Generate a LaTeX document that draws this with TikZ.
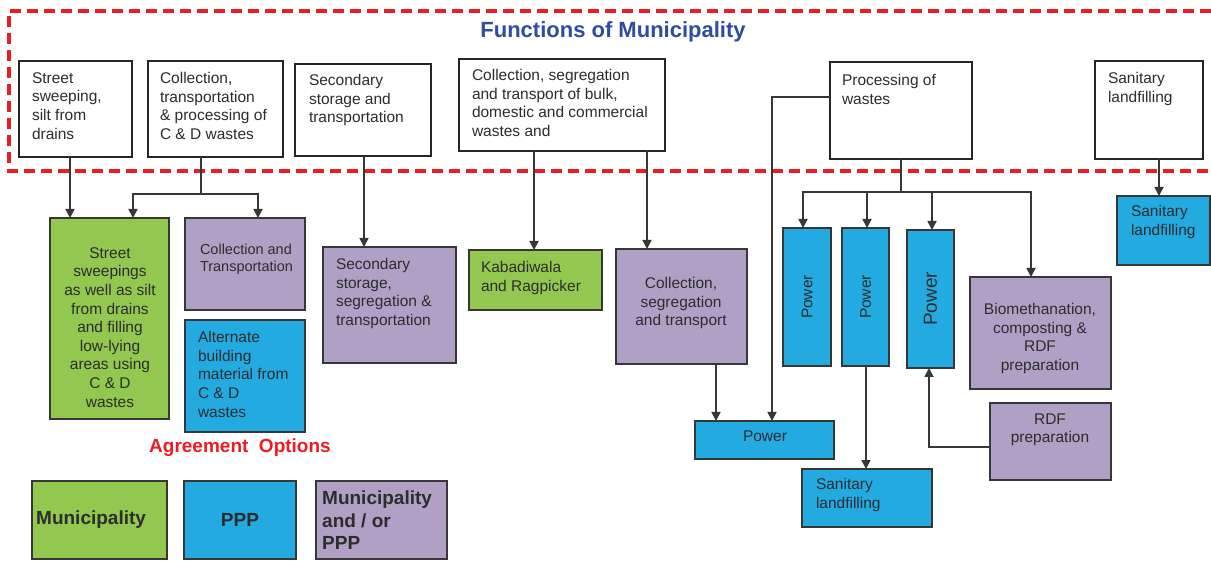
\documentclass[tikz,border=0pt]{standalone}
\usepackage{fontspec}
\setmainfont{Liberation Sans}
\usetikzlibrary{arrows.meta,calc}
\definecolor{cgreen}{RGB}{146,200,80}
\definecolor{cblue}{RGB}{35,170,225}
\definecolor{cpurple}{RGB}{176,160,198}
\definecolor{cred}{RGB}{237,28,36}
\definecolor{ctitle}{RGB}{46,76,160}
\definecolor{cline}{RGB}{55,55,55}
\definecolor{ctext}{RGB}{45,45,45}
\newcommand\mkbox[6]{\node[#2, anchor=north west, minimum width=#5-#3, minimum height=#6-#4] (#1) at (#3,#4) {};}
\tikzset{
  boxbase/.style={rectangle, inner sep=0pt, outer sep=0pt},
  wbox/.style={boxbase, draw=black!85, line width=1.5pt, fill=white},
  gbox/.style={boxbase, draw=cline, line width=1.8pt, fill=cgreen},
  bbox/.style={boxbase, draw=cline, line width=1.8pt, fill=cblue},
  pbox/.style={boxbase, draw=cline, line width=1.8pt, fill=cpurple},
  txt/.style={font=\fontsize{15.5}{18.6}\selectfont, text=ctext, inner sep=0pt, outer sep=0pt, align=left},
  ctxt/.style={txt, align=center},
  legtxt/.style={font=\bfseries\fontsize{19}{22.5}\selectfont, text=ctext, inner sep=0pt, align=left},
  ln/.style={draw=cline, line width=1.7pt},
  arr/.style={ln, -{Triangle[length=9pt,width=9pt]}},
}
\begin{document}
\begin{tikzpicture}[x=1pt,y=-1pt]
\useasboundingbox[fill=white] (0,0) rectangle (1211,561);
% dashed frame
\draw[cred, line width=3.5pt, dash pattern=on 11pt off 6pt] (1211,11) -- (9,11) -- (9,171) -- (1211,171);
\node[font=\bfseries\fontsize{22}{26}\selectfont, text=ctitle, inner sep=0pt] (title) at (613,32) {Functions of Municipality};
% top boxes
\mkbox{t1}{wbox}{19}{61}{132}{157}
\mkbox{t2}{wbox}{148}{61}{283}{157}
\mkbox{t3}{wbox}{295}{64}{431}{156}
\mkbox{t4}{wbox}{459}{59}{665}{151}
\mkbox{t5}{wbox}{830}{62}{972}{159}
\mkbox{t6}{wbox}{1095}{61}{1203}{159}
\node[txt, anchor=north west] (t1t) at (32,72.5) {Street\\sweeping,\\silt from\\drains};
\node[txt, anchor=north west] (t2t) at (160,72.5) {Collection,\\transportation\\\& processing of\\C \& D wastes};
\node[txt, anchor=north west] (t3t) at (309,74.5) {Secondary\\storage and\\transportation};
\node[txt, anchor=north west] (t4t) at (472,69.5) {Collection, segregation\\and transport of bulk,\\domestic and commercial\\wastes and};
\node[txt, anchor=north west] (t5t) at (842,74.5) {Processing of\\wastes};
\node[txt, anchor=north west] (t6t) at (1108,72.5) {Sanitary\\landfilling};
% lower boxes
\mkbox{g1}{gbox}{50}{218}{169}{419}
\mkbox{ct}{pbox}{185}{218}{305}{310}
\mkbox{ab}{bbox}{185}{320}{305}{432}
\mkbox{s1}{pbox}{323}{247}{456}{363}
\mkbox{kb}{gbox}{469}{250}{602}{310}
\mkbox{cst}{pbox}{616}{249}{747}{364}
\mkbox{p1}{bbox}{783}{228}{831}{366}
\mkbox{p2}{bbox}{842}{228}{889}{366}
\mkbox{p3}{bbox}{907}{230}{954}{368}
\mkbox{bio}{pbox}{970}{277}{1111}{389}
\mkbox{rdf}{pbox}{990}{403}{1111}{480}
\mkbox{pwh}{bbox}{695}{421}{834}{459}
\mkbox{sl2}{bbox}{802}{469}{932}{527}
\mkbox{sl3}{bbox}{1117}{196}{1210}{265}
\node[ctxt, anchor=north] (g1t) at (110,247.5) {Street\\sweepings\\as well as silt\\from drains\\and filling\\low-lying\\areas using\\C \& D\\wastes};
\node[txt, font=\fontsize{14.5}{17}\selectfont, anchor=north west] (ctt) at (200,243.5) {Collection and\\Transportation};
\node[txt, anchor=north west] (abt) at (198,331.5) {Alternate\\building\\material from\\C \& D\\wastes};
\node[txt, anchor=north west] (s1t) at (336,258.5) {Secondary\\storage,\\segregation \&\\transportation};
\node[txt, anchor=north west] (kbt) at (481,261.5) {Kabadiwala\\and Ragpicker};
\node[ctxt, anchor=north] (cstt) at (681,277.5) {Collection,\\segregation\\and transport};
\node[txt, rotate=90] (p1t) at (p1.center) {Power};
\node[txt, rotate=90] (p2t) at (p2.center) {Power};
\node[txt, font=\fontsize{19}{22}\selectfont, rotate=90] (p3t) at (p3.center) {Power};
\node[ctxt, anchor=north] (biot) at (1040,303.5) {Biomethanation,\\composting \&\\RDF\\preparation};
\node[ctxt, anchor=north] (rdft) at (1050,413.5) {RDF\\preparation};
\node[txt] (pwht) at (765,436) {Power};
\node[txt, anchor=north west] (sl2t) at (816,478.5) {Sanitary\\landfilling};
\node[txt, anchor=north west] (sl3t) at (1131,205.5) {Sanitary\\landfilling};
% legend
\node[font=\bfseries\fontsize{19}{22}\selectfont, text=cred, inner sep=0pt] (agr) at (240,448) {Agreement\ \ Options};
\mkbox{lg1}{gbox}{32}{481}{167}{559}
\mkbox{lg2}{bbox}{184}{481}{296}{559}
\mkbox{lg3}{pbox}{316}{481}{447}{559}
\node[legtxt, anchor=west] (lg1t) at (36,520) {Municipality};
\node[legtxt] (lg2t) at (240,520) {PPP};
\node[legtxt, anchor=north west] (lg3t) at (322,491) {Municipality\\and / or\\PPP};
% connectors
\coordinate (k1) at (70,0);
\draw[arr] (t1.south -| k1) -- (g1.north -| k1);
\coordinate (j2) at (201,194);
\coordinate (k2a) at (133,0);
\coordinate (k2b) at (258,0);
\draw[ln] (t2.south -| j2) -- (j2);
\draw[arr] (j2) -| (g1.north -| k2a);
\draw[arr] (j2) -| (ct.north -| k2b);
\coordinate (k3) at (364,0);
\draw[arr] (t3.south -| k3) -- (s1.north -| k3);
\coordinate (k4a) at (534,0);
\coordinate (k4b) at (647,0);
\draw[arr] (t4.south -| k4a) -- (kb.north -| k4a);
\draw[arr] (t4.south -| k4b) -- (cst.north -| k4b);
\coordinate (k5) at (772,97);
\draw[arr] (t5.west |- k5) -| (pwh.north -| k5);
\coordinate (j5) at (901,192);
\coordinate (k5a) at (803,0);
\coordinate (k5b) at (867,0);
\coordinate (k5c) at (932,0);
\coordinate (k5d) at (1031,0);
\draw[ln] (t5.south -| j5) -- (j5);
\draw[arr] (j5) -| (p1.north -| k5a);
\draw[arr] (j5) -| (p2.north -| k5b);
\draw[arr] (j5) -| (p3.north -| k5c);
\draw[arr] (j5) -| (bio.north -| k5d);
\coordinate (k6) at (716,0);
\draw[arr] (cst.south -| k6) -- (pwh.north -| k6);
\coordinate (k7) at (866,0);
\draw[arr] (p2.south -| k7) -- (sl2.north -| k7);
\coordinate (k8) at (929,447);
\draw[arr] (rdf.west |- k8) -| (p3.south -| k8);
\coordinate (k9) at (1159,0);
\draw[arr] (t6.south -| k9) -- (sl3.north -| k9);
\end{tikzpicture}
\end{document}
